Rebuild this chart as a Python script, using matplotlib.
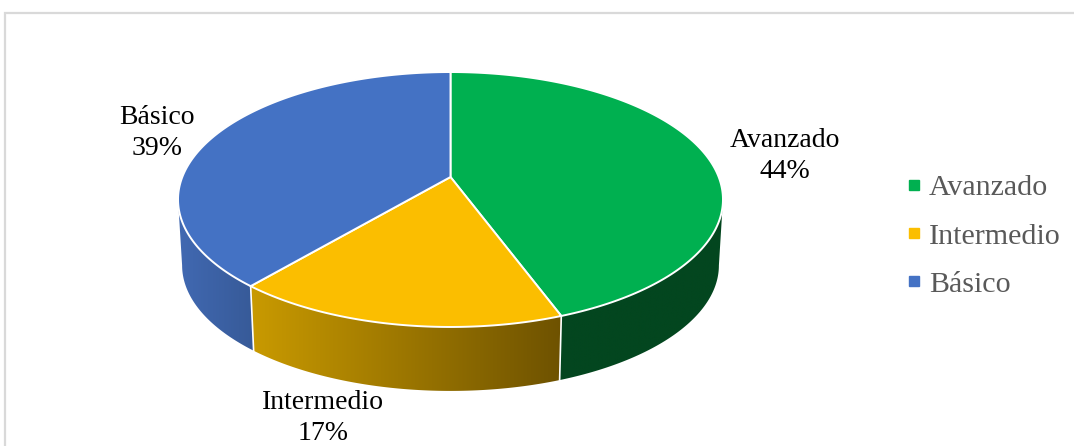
import numpy as np
import matplotlib
matplotlib.use("Agg")
import matplotlib.pyplot as plt
from matplotlib.patches import Polygon, Rectangle
from matplotlib.lines import Line2D

plt.rcParams['font.family'] = ['Liberation Serif', 'DejaVu Serif']

# Data
categories = ["Avanzado", "Intermedio", "Básico"]
values = [44.4, 16.75, 38.85]
colors = ["#00B050", "#FBBE00", "#4472C4"]
wall_left = ["#03461F", "#C99A00", "#4169B2"]
wall_right = ["#03461F", "#6E5200", "#375A98"]
label_pos = [(785, 156), (323, 418), (157, 133)]

W, H = 1074, 446
fig = plt.figure(figsize=(W / 100, H / 100), dpi=100)
ax = fig.add_axes([0, 0, 1, 1])
ax.set_xlim(0, W)
ax.set_ylim(H, 0)
ax.axis("off")

# Chart frame
ax.add_patch(Rectangle((4.5, 12.5), W + 10, H + 10, fc="white", ec="#D9D9D9", lw=1.6, zorder=0))

# Perspective projection of the pie's circular disc
CX, CY = 450.5, 177.0
A, B, K = 268.2, 123.5, 0.1765
DEPTH, SCALE = 66.2, 0.985


def project(theta, scale=1.0, dy=0.0):
    u, v = np.sin(theta), np.cos(theta)
    d = 1 + K * v
    return np.column_stack((CX + scale * A * u / d, CY + dy - scale * B * v / d))


fractions = np.cumsum([0] + values) / np.sum(values)
angles = 2 * np.pi * fractions
limit_r = np.arccos(-K)
limit_l = 2 * np.pi - limit_r

# Side walls with horizontal gradients
for i in range(len(values)):
    a0, a1 = max(angles[i], limit_r), min(angles[i + 1], limit_l)
    if a1 <= a0:
        continue
    t = np.linspace(a0, a1, 120)
    top, bot = project(t), project(t, SCALE, DEPTH)
    poly = Polygon(np.vstack((top, bot[::-1])), closed=True, fc="none", ec="none", zorder=2)
    ax.add_patch(poly)
    xs = np.vstack((top, bot))[:, 0]
    ys = np.vstack((top, bot))[:, 1]
    c0 = np.array(matplotlib.colors.to_rgb(wall_left[i]))
    c1 = np.array(matplotlib.colors.to_rgb(wall_right[i]))
    ramp = np.linspace(0, 1, 256)[:, None]
    grad = (c0 * (1 - ramp) + c1 * ramp)[None, :, :]
    im = ax.imshow(grad, extent=(xs.min(), xs.max(), ys.max(), ys.min()),
                   aspect="auto", zorder=2, interpolation="bilinear")
    im.set_clip_path(poly)

ax.set_xlim(0, W)
ax.set_ylim(H, 0)

# Wall separators
for a in angles[1:-1]:
    ends = np.vstack((project(a), project(a, SCALE, DEPTH)))
    ax.plot(ends[:, 0], ends[:, 1], color="white", lw=1.2, zorder=3)

# Top face
for i in range(len(values)):
    t = np.linspace(angles[i], angles[i + 1], 200)
    pts = np.vstack(([[CX, CY]], project(t)))
    ax.add_patch(Polygon(pts, closed=True, fc=colors[i], ec="white", lw=1.4,
                         joinstyle="round", zorder=4))

# Data labels
for name, val, pos in zip(categories, values, label_pos):
    ax.text(pos[0], pos[1], f"{name}\n{val:.0f}%", ha="center", va="center",
            fontsize=20, color="black", linespacing=1.33, zorder=5)

# Legend
handles = [Line2D([], [], linestyle="none", marker="s", markersize=6.5,
                  markerfacecolor=c, markeredgecolor=c) for c in colors]
leg = ax.legend(handles, categories, loc="center left", bbox_to_anchor=(903.5 / W, 1 - 236 / H),
                bbox_transform=fig.transFigure, frameon=False, fontsize=21.6, labelcolor="#595959",
                labelspacing=0.71, handlelength=0.7, handletextpad=0.14, borderpad=0, borderaxespad=0)

fig.savefig("out.png", dpi=100)
